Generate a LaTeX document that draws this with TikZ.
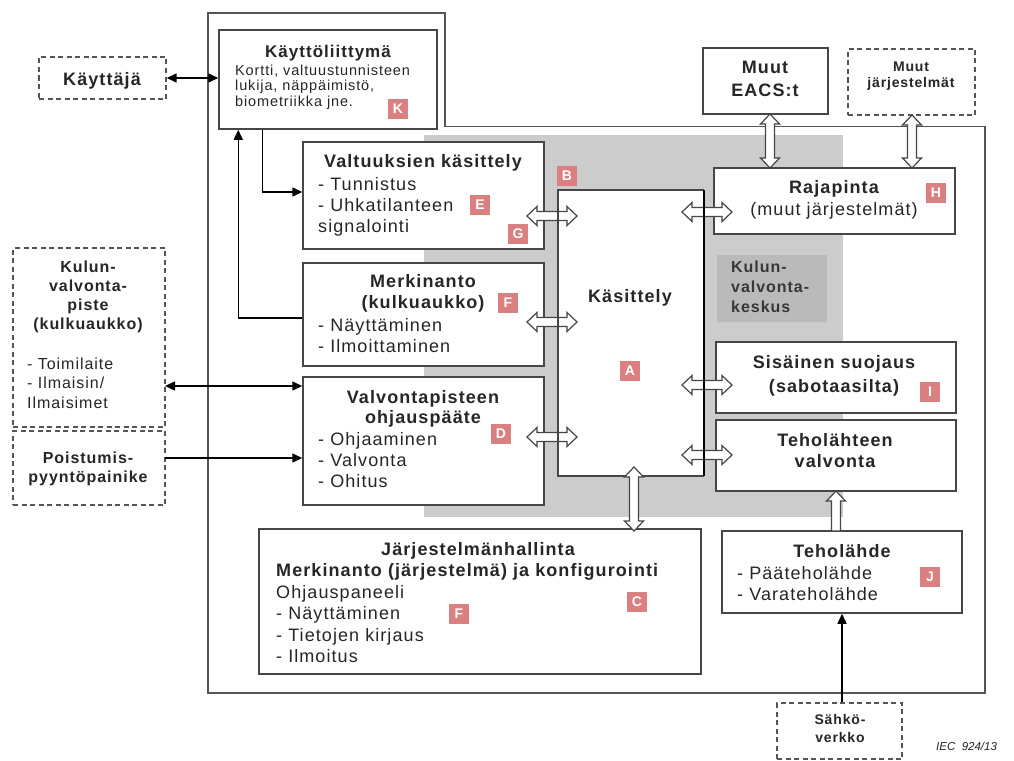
\documentclass[tikz,border=0pt]{standalone}
\usepackage{fontspec}
\setmainfont{Liberation Sans}[LetterSpace=6]
\newfontfamily\iecfont{Liberation Sans}
\usetikzlibrary{fit,arrows.meta,calc}
\definecolor{ink}{RGB}{38,38,38}
\definecolor{edge}{RGB}{70,70,70}
\definecolor{framec}{RGB}{85,85,85}
\definecolor{graybg}{RGB}{204,204,204}
\definecolor{graydk}{RGB}{186,186,186}
\definecolor{tagc}{RGB}{218,128,128}
\newcommand\fs[1]{\fontsize{#1}{#1}\selectfont}
\newcommand\linesL[2]{\vtop{\baselineskip=#1pt\lineskiplimit=-100pt\halign{##\hfil\cr#2\crcr}}}
\newcommand\linesC[2]{\vtop{\baselineskip=#1pt\lineskiplimit=-100pt\halign{\hfil##\hfil\cr#2\crcr}}}
\tikzset{
  box/.style={draw=edge, line width=1.5pt, fill=white, inner sep=0pt},
  dbox/.style={draw=framec, line width=1.4pt, dash pattern=on 5pt off 3.5pt, fill=white, inner sep=0pt},
  txt/.style={inner sep=0pt, text=ink},
  tagn/.style={fill=tagc, text=white, font=\fs{14}\bfseries, minimum size=20pt, inner sep=0pt},
  hollowst/.style={draw=edge, line width=1.2pt, fill=white, line join=miter},
  pics/hdarrow/.style={code={
    \draw[hollowst] ({-#1/2},0) -- ({-#1/2+10},-9.5) -- ({-#1/2+10},-4.5) -- ({#1/2-10},-4.5)
      -- ({#1/2-10},-9.5) -- ({#1/2},0) -- ({#1/2-10},9.5) -- ({#1/2-10},4.5)
      -- ({-#1/2+10},4.5) -- ({-#1/2+10},9.5) -- cycle;}},
  pics/vdarrow/.style={code={
    \draw[hollowst] (0,{-#1/2}) -- (-9.5,{-#1/2+10}) -- (-4.5,{-#1/2+10}) -- (-4.5,{#1/2-10})
      -- (-9.5,{#1/2-10}) -- (0,{#1/2}) -- (9.5,{#1/2-10}) -- (4.5,{#1/2-10})
      -- (4.5,{-#1/2+10}) -- (9.5,{-#1/2+10}) -- cycle;}},
  pics/uparrow/.style={code={
    \draw[hollowst] (0,{-#1/2}) -- (9.5,{-#1/2+10}) -- (4.5,{-#1/2+10}) -- (4.5,{#1/2})
      -- (-4.5,{#1/2}) -- (-4.5,{-#1/2+10}) -- (-9.5,{-#1/2+10}) -- cycle;}},
  arr/.style={draw=black, line width=1.5pt, -{Triangle[length=10pt,width=9pt]}},
  darr/.style={draw=black, line width=1.5pt, {Triangle[length=10pt,width=9pt]}-{Triangle[length=10pt,width=9pt]}},
}
\begin{document}
\begin{tikzpicture}[x=1pt,y=-1pt]
\useasboundingbox (0,0) rectangle (1014,760);
\fill[white] (0,0) rectangle (1014,760);
% frame of the system
\draw[framec, line width=1.5pt] (208,13) -- (445,13) -- (445,126.5) -- (985,126.5) -- (985,693) -- (208,693) -- cycle;
% gray areas
\fill[graybg] (424,135) rectangle (843,517);
\node[fill=graydk, inner sep=0pt, fit={(717,255) (827,322)}] (kvk) {};
% boxes
\node[box, fit={(219,30) (437,129)}] (kl) {};
\node[dbox, fit={(39,57) (166,99)}] (user) {};
\node[box, fit={(303,142) (544,249)}] (val) {};
\node[box, fit={(303,263) (544,366)}] (merk) {};
\node[box, fit={(303,377) (544,505)}] (valv) {};
\node[dbox, fit={(13,248) (165,427)}] (kvp) {};
\node[dbox, fit={(13,431) (165,505)}] (poist) {};
\node[fill=white, inner sep=0pt, fit={(558,190) (704,476)}] (kas) {};
\node[box, fit={(703,48) (828,114)}] (eacs) {};
\node[dbox, fit={(848,49) (975,115)}] (mj) {};
\node[box, fit={(714,168) (955,234)}] (raja) {};
\node[box, fit={(716,342) (956,413)}] (sis) {};
\node[box, fit={(716,420) (956,491)}] (tv) {};
\node[box, fit={(722,531) (962,613)}] (tehol) {};
\node[box, fit={(259,529) (701,674)}] (jh) {};
\node[dbox, fit={(777,703) (902,759)}] (sahko) {};
% hollow arrows
\pic (h1) at (552,216) {hdarrow=50};
\pic (h2) at (552,322) {hdarrow=50};
\pic (h3) at (552,437) {hdarrow=50};
\pic (h4) at (707,212) {hdarrow=50};
\pic (h5) at (707,385) {hdarrow=50};
\pic (h6) at (707,455) {hdarrow=50};
\draw[edge, line width=1.5pt] (kas.north east) -- (kas.north west) -- (kas.south west) -- (kas.south east);
\draw[black, line width=2.5pt] (kas.north east) -- (kas.south east);
\pic (v1) at (634,499) {vdarrow=64};
\pic (v2) at (770,141) {vdarrow=54};
\pic (v3) at (912,141.5) {vdarrow=53};
\pic (u1) at (836,511) {uparrow=40};
% texts
\node[txt, anchor=base, font=\fs{18}\bfseries] (tuser) at (102,85) {Käyttäjä};
\node[txt, anchor=base, font=\fs{17}\bfseries] (tkl) at (328,57) {Käyttöliittymä};
\node[txt, anchor=base west, font=\fs{14.5}] (tkl2) at (235,75) {\linesL{15.5}{Kortti, valtuustunnisteen\cr lukija, näppäimistö,\cr biometriikka jne.}};
\node[txt, anchor=base, font=\fs{18}\bfseries] (tval) at (423,167) {Valtuuksien käsittely};
\node[txt, anchor=base west, font=\fs{18}] (tval2) at (318,190) {\linesL{21}{- Tunnistus\cr - Uhkatilanteen\cr signalointi}};
\node[txt, anchor=base, font=\fs{18}\bfseries] (tmerk) at (423,287) {\linesC{21}{Merkinanto\cr (kulkuaukko)}};
\node[txt, anchor=base west, font=\fs{18}] (tmerk2) at (318,331) {\linesL{21}{- Näyttäminen\cr - Ilmoittaminen}};
\node[txt, anchor=base, font=\fs{18}\bfseries] (tvalv) at (423,403) {\linesC{20}{Valvontapisteen\cr ohjauspääte}};
\node[txt, anchor=base west, font=\fs{18}] (tvalv2) at (318,445) {\linesL{21}{- Ohjaaminen\cr - Valvonta\cr - Ohitus}};
\node[txt, anchor=base, font=\fs{18}\bfseries] (tkas) at (630,302) {Käsittely};
\node[inner sep=0pt, text={rgb,255:red,55;green,55;blue,55}, anchor=base west, font=\fs{16}\bfseries] (tkvk) at (731,272) {\linesL{20}{Kulun-\cr valvonta-\cr keskus}};
\node[txt, anchor=base, font=\fs{18}\bfseries] (teacs) at (765,74) {\linesC{23}{Muut\cr EACS:t}};
\node[txt, anchor=base, font=\fs{14}\bfseries] (tmj) at (911,71) {\linesC{17}{Muut\cr järjestelmät}};
\node[txt, anchor=base, font=\fs{18}\bfseries] (traja) at (834,193) {Rajapinta};
\node[txt, anchor=base, font=\fs{18}] (traja2) at (834,215) {(muut järjestelmät)};
\node[txt, anchor=base, font=\fs{18}\bfseries] (tsis) at (834,368) {\linesC{24}{Sisäinen suojaus\cr (sabotaasilta)}};
\node[txt, anchor=base, font=\fs{18}\bfseries] (ttv) at (835,446) {\linesC{21}{Teholähteen\cr valvonta}};
\node[txt, anchor=base, font=\fs{18}\bfseries] (ttehol) at (842,557) {Teholähde};
\node[txt, anchor=base west, font=\fs{18}] (ttehol2) at (737,579) {\linesL{21}{- Pääteholähde\cr - Varateholähde}};
\node[txt, anchor=base, font=\fs{18}\bfseries] (tjh) at (478,555) {Järjestelmänhallinta};
\node[txt, anchor=base west, font=\fs{18}\bfseries] (tjh2) at (276,576) {Merkinanto (järjestelmä) ja konfigurointi};
\node[txt, anchor=base west, font=\fs{18}] (tjh3) at (276,598) {\linesL{21.5}{Ohjauspaneeli\cr - Näyttäminen\cr - Tietojen kirjaus\cr - Ilmoitus}};
\node[txt, anchor=base, font=\fs{16}\bfseries] (tkvp) at (88,272) {\linesC{19.3}{Kulun-\cr valvonta-\cr piste\cr (kulkuaukko)}};
\node[txt, anchor=base west, font=\fs{16}] (tkvp2) at (27,369) {\linesL{19.5}{- Toimilaite\cr - Ilmaisin/\cr Ilmaisimet}};
\node[txt, anchor=base, font=\fs{16}\bfseries] (tpoist) at (88,463) {\linesC{19}{Poistumis-\cr pyyntöpainike}};
\node[txt, anchor=base, font=\fs{14}\bfseries] (tsahko) at (840,724) {\linesC{18}{Sähkö-\cr verkko}};
\node[txt, anchor=base west, font=\iecfont\itshape\fs{11.5}] (tiec) at (936,750) {IEC\ \ 924/13};
% tags
\node[tagn] (tagK) at (398,109) {K};
\node[tagn] (tagE) at (480,205) {E};
\node[tagn] (tagG) at (518,234) {G};
\node[tagn] (tagB) at (567,176) {B};
\node[tagn] (tagF1) at (508,303) {F};
\node[tagn] (tagD) at (501,434) {D};
\node[tagn] (tagA) at (630,371) {A};
\node[tagn] (tagH) at (936,193) {H};
\node[tagn] (tagI) at (930,392) {I};
\node[tagn] (tagJ) at (930,577) {J};
\node[tagn] (tagF2) at (459,614) {F};
\node[tagn] (tagC) at (637,602) {C};
% solid connectors
\coordinate (cA) at (165,386);
\coordinate (cB) at (165,458);
\draw[darr] (user.east) -- (user.east -| kl.west);
\draw[arr] ([xshift=44pt]kl.south west) |- ([yshift=3.5pt]val.west);
\draw[arr] ([yshift=-3.5pt]merk.west) -| ([xshift=20pt]kl.south west);
\draw[darr] (cA) -- (cA -| valv.west);
\draw[arr] (cB) -- (cB -| valv.west);
\draw[arr] (sahko.north -| tehol.south) -- (tehol.south);
\end{tikzpicture}
\end{document}
